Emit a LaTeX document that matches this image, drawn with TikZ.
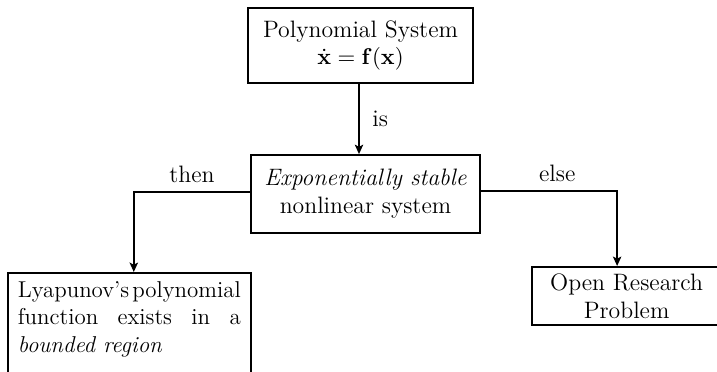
\documentclass[tikz,border=0pt]{standalone}
\usetikzlibrary{arrows.meta,calc}
\begin{document}
\begin{tikzpicture}[x=0.48pt,y=-0.48pt,
  every node/.style={font=\fontsize{11.4pt}{13.5pt}\selectfont},
  box/.style={draw,line width=0.8pt,inner sep=0pt,align=center},
  arr/.style={line width=0.8pt,-{Stealth[length=4.5pt,width=4pt,inset=1pt]}},
  lbl/.style={inner sep=0pt}]
\useasboundingbox (0,0) rectangle (717,372);
\clip (0,0) rectangle (717,372);
\node[box,minimum width=108pt,minimum height=36pt] (top) at (360.5,45.5)
  {Polynomial System\\[-0.5pt]$\dot{\mathbf{x}}=\mathbf{f}(\mathbf{x})$};
\node[box,minimum width=110pt,minimum height=37.5pt] (mid) at (365.5,194)
  {\textit{Exponentially stable}\\nonlinear system};
\node[box,anchor=north west,text width=107pt,align=left,
  inner xsep=4.8pt,inner ysep=4pt] (lyap) at (7,272)
  {\fontsize{11pt}{13.2pt}\selectfont
   \leavevmode\hbox to 107pt{Lyapunov's\hfill polynomial}\\
   \leavevmode\hbox to 107pt{function\hfill exists\hfill in\hfill a}\\
   \textit{bounded region}\\
   \mbox{}};
\node[box,anchor=north west,minimum width=91pt,minimum height=28pt] (open) at (531,266)
  {Open Research\\Problem};
\draw[arr] (top.south -| 359,0) -- (359,0 |- mid.north) node[lbl,midway,right=6pt] {is};
\draw[arr] (mid.west |- 0,192) -| ($(lyap.north)+(4.5,0)$)
  node[lbl,pos=0.25,above=4pt] {then};
\draw[arr] (mid.east |- 0,191) -| ($(open.north)+(-9.5,0)$)
  node[lbl,pos=0.28,above=4pt] {else};
\end{tikzpicture}
\end{document}
